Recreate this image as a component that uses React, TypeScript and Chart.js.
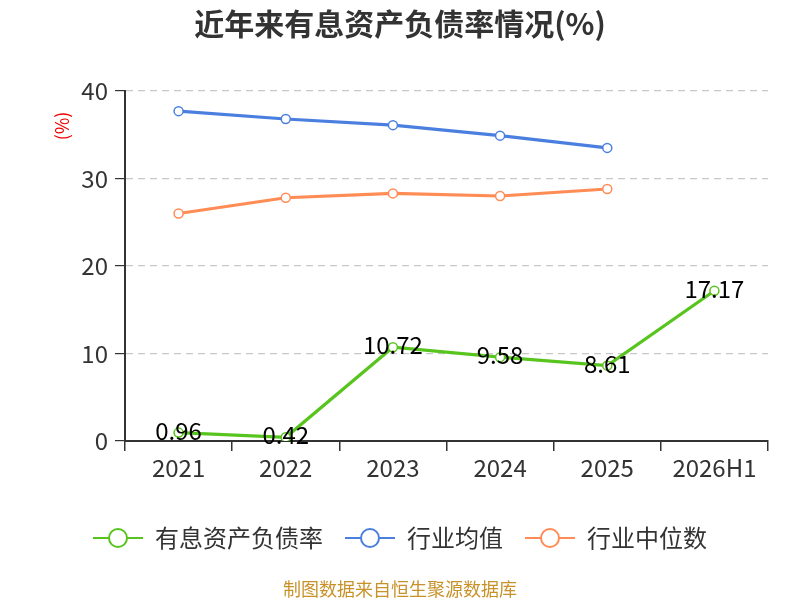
import * as React from 'react';
import {useRef, useEffect} from 'react';
import {Chart, registerables} from 'chart.js';

Chart.register(...registerables);

const categories = ['2021', '2022', '2023', '2024', '2025', '2026H1'];
const debtRatio = [0.96, 0.42, 10.72, 9.58, 8.61, 17.17];
const industryMean = [37.7, 36.8, 36.1, 34.9, 33.5, null];
const industryMedian = [26.0, 27.8, 28.3, 28.0, 28.8, null];
const yTicks = [0, 10, 20, 30, 40];

const GREEN = '#58c41e';
const BLUE = '#4a7fe0';
const ORANGE = '#ff8c55';
const FONT = '"Noto Sans CJK SC", "Noto Sans", sans-serif';

function legendMarker(color: string): HTMLCanvasElement {
  const c = document.createElement('canvas');
  c.width = 52;
  c.height = 24;
  const ctx = c.getContext('2d');
  if (ctx) {
    ctx.strokeStyle = color;
    ctx.lineWidth = 2;
    ctx.beginPath();
    ctx.moveTo(1, 12);
    ctx.lineTo(17, 12);
    ctx.moveTo(35, 12);
    ctx.lineTo(51, 12);
    ctx.stroke();
    ctx.fillStyle = '#fff';
    ctx.beginPath();
    ctx.arc(26, 12, 9, 0, Math.PI * 2);
    ctx.fill();
    ctx.stroke();
  }
  return c;
}

const extras = {
  id: 'extras',
  afterDatasetsDraw(chart: any) {
    const ctx = chart.ctx;
    const meta = chart.getDatasetMeta(0);
    ctx.save();
    ctx.font = `24px ${FONT}`;
    ctx.fillStyle = '#000';
    ctx.textAlign = 'center';
    ctx.textBaseline = 'middle';
    meta.data.forEach((pt: any, i: number) => {
      ctx.fillText(String(debtRatio[i]), pt.x, pt.y - 2);
    });
    ctx.restore();
  },
  afterDraw(chart: any) {
    const ctx = chart.ctx;
    ctx.save();
    ctx.font = `18px ${FONT}`;
    ctx.fillStyle = '#e00';
    ctx.textAlign = 'center';
    ctx.textBaseline = 'middle';
    ctx.translate(62, 126);
    ctx.rotate(-Math.PI / 2);
    ctx.fillText('(%)', 0, 0);
    ctx.restore();

    ctx.save();
    ctx.font = `18px ${FONT}`;
    ctx.fillStyle = '#c8922a';
    ctx.textAlign = 'center';
    ctx.textBaseline = 'middle';
    ctx.fillText('制图数据来自恒生聚源数据库', 400, 589);
    ctx.restore();
  },
};

function App(): JSX.Element {
  const chartContainer = useRef<HTMLCanvasElement>(null);

  useEffect(() => {
    if (!chartContainer.current) return;
    const markers = [legendMarker(GREEN), legendMarker(BLUE), legendMarker(ORANGE)];
    const line = (label: string, data: Array<number | null>, color: string) => ({
      label,
      data,
      borderColor: color,
      backgroundColor: color,
      borderWidth: 3.2,
      pointRadius: 4.5,
      pointBorderWidth: 1.5,
      pointBackgroundColor: '#fff',
      pointBorderColor: color,
      spanGaps: false,
      tension: 0,
    });
    const chart = new Chart(chartContainer.current, {
      type: 'line',
      data: {
        labels: categories,
        datasets: [
          line('有息资产负债率', debtRatio, GREEN),
          line('行业均值', industryMean, BLUE),
          line('行业中位数', industryMedian, ORANGE),
        ],
      },
      options: {
        animation: false,
        responsive: false,
        layout: {padding: {left: 32, right: 32, bottom: 40}},
        plugins: {
          title: {
            display: true,
            text: '近年来有息资产负债率情况(%)',
            color: '#333',
            font: {family: FONT, size: 30, weight: 'bold'},
            padding: {top: 6, bottom: 49},
          },
          legend: {
            position: 'bottom',
            labels: {
              usePointStyle: true,
              pointStyleWidth: 50,
              boxHeight: 20,
              padding: 22,
              color: '#333',
              font: {family: FONT, size: 24},
              generateLabels(ch: any) {
                const items = Chart.defaults.plugins.legend.labels.generateLabels(ch);
                items.forEach((it: any, i: number) => {
                  it.pointStyle = markers[i];
                });
                return items;
              },
            },
          },
          tooltip: {enabled: false},
        },
        scales: {
          x: {
            offset: true,
            afterFit(scale: any) {
              scale.height = 63;
            },
            grid: {
              display: true,
              offset: true,
              drawOnChartArea: false,
              drawTicks: true,
              tickLength: 10,
              color: '#333',
              lineWidth: 1.5,
            },
            border: {display: true, color: '#333', width: 2},
            ticks: {color: '#333', font: {family: FONT, size: 24}, padding: 2},
          },
          y: {
            min: 0,
            max: 40,
            afterBuildTicks(scale: any) {
              scale.ticks = yTicks.map((v) => ({value: v}));
            },
            afterFit(scale: any) {
              scale.width = 93;
            },
            grid: {
              color: '#c8c8c8',
              lineWidth: 1.2,
              tickLength: 10,
              tickColor: '#333',
            },
            border: {display: true, color: '#333', width: 2, dash: [7, 5]},
            ticks: {color: '#333', font: {family: FONT, size: 24}, padding: 7},
          },
        },
      },
      plugins: [extras],
    } as any);
    return () => {
      chart.destroy();
    };
  }, []);

  return (
    <div style={{position: 'fixed', left: 0, top: 0, width: 800, height: 600, background: '#fff'}}>
      <canvas ref={chartContainer} width={800} height={600} />
    </div>
  );
}

export default App;
